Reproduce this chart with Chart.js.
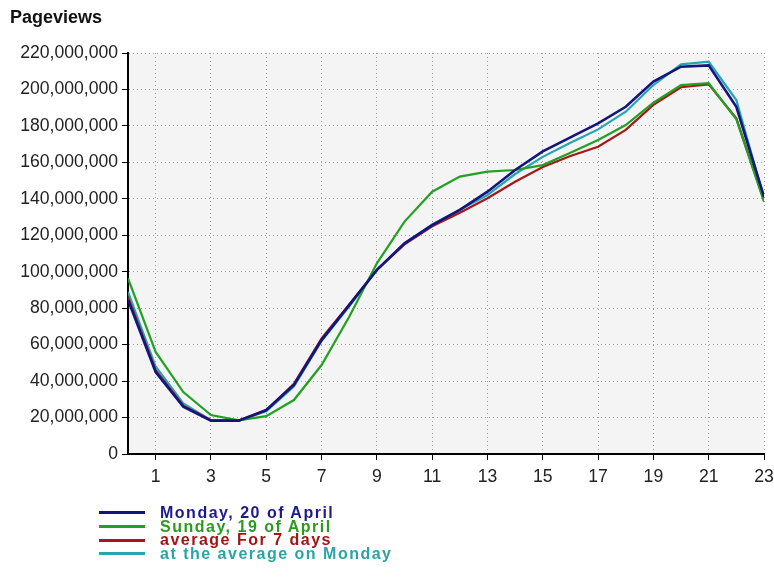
<!DOCTYPE html>
<html>
<head>
<meta charset="utf-8">
<title>Pageviews</title>
<script src="https://cdn.jsdelivr.net/npm/chart.js@4.4.1/dist/chart.umd.min.js"></script>
<style>
  html, body { margin: 0; padding: 0; background: #fff; }
  #wrap { position: relative; width: 774px; height: 585px; }
  #legend {
    position: absolute; left: 99px; top: 506px;
    font: bold 16px 'Liberation Sans', Arial, sans-serif;
    letter-spacing: 1.5px;
  }
  #legend .row { display: flex; align-items: center; height: 13.7px; line-height: 13.7px; white-space: nowrap; }
  #legend .swatch { width: 46px; height: 3px; margin-right: 15px; }
</style>
</head>
<body>
<div id="wrap">
  <canvas id="chart" width="774" height="585"></canvas>
  <div id="legend"></div>
</div>
<script>
// hour of day
const hours = [0, 1, 2, 3, 4, 5, 6, 7, 8, 9, 10, 11, 12, 13, 14, 15, 16, 17, 18, 19, 20, 21, 22, 23];

const monday = [84500000, 45000000, 26000000, 18300000, 18300000, 24100000, 37900000, 62500000,
  81700000, 101000000, 115600000, 125600000, 133900000, 143900000, 155800000, 166000000,
  173700000, 181400000, 190500000, 204300000, 212500000, 213200000, 190500000, 141200000];

const sunday = [96400000, 56000000, 34000000, 21400000, 18500000, 20800000, 29600000, 48800000,
  75300000, 104600000, 127500000, 143900000, 152200000, 154900000, 155800000, 158500000,
  165300000, 172300000, 180500000, 192700000, 202400000, 203400000, 183600000, 138400000];

const avg7days = [86000000, 46000000, 26500000, 18500000, 18300000, 24000000, 38500000, 63400000,
  82000000, 101000000, 115000000, 124900000, 132400000, 140300000, 149400000, 157500000,
  163500000, 168600000, 177800000, 191500000, 201200000, 202800000, 184200000, 139000000];

const avgMonday = [89000000, 48000000, 27800000, 18600000, 18300000, 23500000, 37000000, 62000000,
  81000000, 101000000, 115600000, 126000000, 134000000, 142000000, 153600000, 163000000,
  170800000, 178100000, 187800000, 202400000, 213800000, 215200000, 194200000, 140300000];

const xTicks = [1, 3, 5, 7, 9, 11, 13, 15, 17, 19, 21, 23];
const yTicks = [0, 20000000, 40000000, 60000000, 80000000, 100000000, 120000000,
  140000000, 160000000, 180000000, 200000000, 220000000];

const FONT = "'Liberation Sans', Arial, sans-serif";

const toPoints = vals => hours.map((h, i) => ({ x: h, y: vals[i] }));

const series = [
  { label: 'Monday, 20 of April',      data: monday,    color: '#14147e', text: '#1a1a8c', width: 2.6 },
  { label: 'Sunday, 19 of April',      data: sunday,    color: '#22a022', text: '#2c9a20', width: 2.2 },
  { label: 'average For 7 days',       data: avg7days,  color: '#a41818', text: '#a31414', width: 2.2 },
  { label: 'at the average on Monday', data: avgMonday, color: '#22a6b0', text: '#2aa4a6', width: 2.2 },
];

const plotBg = {
  id: 'plotBg',
  beforeDraw(chart) {
    const { ctx, chartArea: a } = chart;
    ctx.save();
    ctx.fillStyle = '#f4f4f4';
    ctx.fillRect(a.left, a.top, a.right - a.left, a.bottom - a.top);
    ctx.restore();
  },
};

const gridStyle = {
  color: '#a0a0a0',
  lineWidth: 1,
  tickColor: '#000',
  tickWidth: 1,
  tickBorderDash: [],
  tickLength: 6,
};

const chart = new Chart(document.getElementById('chart'), {
  type: 'line',
  data: {
    datasets: series.map(s => ({
      label: s.label,
      data: toPoints(s.data),
      borderColor: s.color,
      backgroundColor: s.color,
      borderWidth: s.width,
      pointRadius: 0,
      tension: 0,
      fill: false,
    })),
  },
  options: {
    responsive: false,
    animation: false,
    layout: { padding: { left: 10, right: 10, top: 0, bottom: 101 } },
    plugins: {
      legend: { display: false },
      tooltip: { enabled: false },
      title: {
        display: true,
        text: 'Pageviews',
        align: 'start',
        color: '#111',
        font: { family: FONT, size: 18, weight: 'bold' },
        padding: { top: 7, bottom: 24.4 },
      },
    },
    scales: {
      x: {
        type: 'linear',
        min: 0,
        max: 23,
        afterBuildTicks: axis => { axis.ticks = xTicks.map(v => ({ value: v })); },
        afterFit: axis => {
          axis.height = 30;
          axis.paddingLeft = 0;
          axis.paddingRight = 0;
        },
        grid: gridStyle,
        border: { display: true, color: '#000', width: 2, dash: [1, 3] },
        ticks: { color: '#222', font: { family: FONT, size: 17.6 }, padding: 7, maxRotation: 0, autoSkip: false },
      },
      y: {
        min: 0,
        max: 220000000,
        afterBuildTicks: axis => { axis.ticks = yTicks.map(v => ({ value: v })); },
        afterFit: axis => {
          axis.width = 118;
          axis.paddingTop = 0;
          axis.paddingBottom = 0;
        },
        grid: gridStyle,
        border: { display: true, color: '#000', width: 2, dash: [1, 3] },
        ticks: {
          color: '#222',
          font: { family: FONT, size: 17.6 },
          padding: 4,
          callback: v => v.toLocaleString('en-US'),
        },
      },
    },
  },
  plugins: [plotBg],
});

// legend rows, text coloured like the lines
const legend = document.getElementById('legend');
series.forEach(s => {
  const row = document.createElement('div');
  row.className = 'row';
  const sw = document.createElement('span');
  sw.className = 'swatch';
  sw.style.background = s.color;
  const txt = document.createElement('span');
  txt.textContent = s.label;
  txt.style.color = s.text;
  row.appendChild(sw);
  row.appendChild(txt);
  legend.appendChild(row);
});
</script>
</body>
</html>
